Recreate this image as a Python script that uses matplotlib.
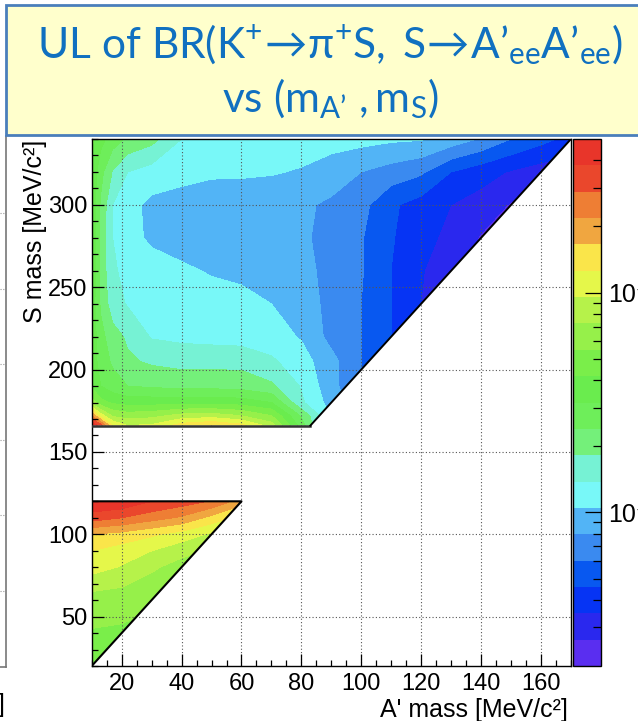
import numpy as np
import matplotlib
matplotlib.use("Agg")
import matplotlib.pyplot as plt
from matplotlib.colors import ListedColormap, BoundaryNorm
from matplotlib.patches import Polygon, Rectangle
from matplotlib.lines import Line2D
from matplotlib.ticker import FixedLocator, MultipleLocator
import matplotlib.cm as cm

plt.rcParams['font.family'] = ['Liberation Sans', 'DejaVu Sans']
plt.rcParams['mathtext.fontset'] = 'custom'
plt.rcParams['mathtext.rm'] = 'Lato'
plt.rcParams['mathtext.it'] = 'Lato:italic'
plt.rcParams['mathtext.bf'] = 'Lato:bold'

# ---- data: log10 of the upper limit on the BR ----
# region above the gap (S mass 166 .. 340 MeV/c^2)
ma_upper = [10, 13, 17, 22, 30, 40, 50, 60, 70, 80, 90, 100, 110, 120, 130, 140, 150, 160, 170]
ms_upper = [166, 172, 180, 190, 205, 220, 240, 260, 280, 300, 320, 340]
log_ul_upper = [
    [-7.24, -7.48, -7.90, -8.02, -8.00, -7.84, -7.78, -7.86, -8.08, -8.56, -9.04, -9.16, -9.22, -9.28, -9.34, -9.34, -9.34, -9.34, -9.34],
    [-7.66, -7.96, -8.16, -8.20, -8.18, -8.10, -8.08, -8.14, -8.26, -8.64, -9.00, -9.12, -9.22, -9.28, -9.34, -9.34, -9.34, -9.34, -9.34],
    [-8.20, -8.34, -8.40, -8.43, -8.43, -8.42, -8.42, -8.44, -8.50, -8.84, -9.03, -9.18, -9.24, -9.30, -9.34, -9.34, -9.34, -9.34, -9.34],
    [-8.40, -8.50, -8.57, -8.62, -8.64, -8.66, -8.66, -8.67, -8.72, -8.87, -9.06, -9.22, -9.34, -9.39, -9.41, -9.41, -9.41, -9.41, -9.41],
    [-8.43, -8.55, -8.64, -8.72, -8.76, -8.78, -8.78, -8.78, -8.84, -8.93, -9.06, -9.22, -9.32, -9.39, -9.44, -9.46, -9.46, -9.46, -9.46],
    [-8.42, -8.58, -8.69, -8.76, -8.87, -8.89, -8.90, -8.91, -8.93, -8.99, -9.14, -9.22, -9.34, -9.42, -9.48, -9.52, -9.53, -9.53, -9.53],
    [-8.42, -8.64, -8.81, -8.87, -8.90, -8.91, -8.93, -8.94, -8.98, -9.05, -9.13, -9.22, -9.34, -9.46, -9.53, -9.58, -9.59, -9.59, -9.59],
    [-8.40, -8.66, -8.84, -8.90, -8.93, -8.96, -8.99, -9.01, -9.03, -9.06, -9.14, -9.21, -9.34, -9.45, -9.54, -9.60, -9.62, -9.62, -9.62],
    [-8.40, -8.66, -8.86, -8.94, -9.00, -9.03, -9.05, -9.06, -9.06, -9.08, -9.14, -9.21, -9.33, -9.41, -9.50, -9.59, -9.62, -9.62, -9.62],
    [-8.40, -8.64, -8.86, -8.94, -9.01, -9.03, -9.05, -9.06, -9.06, -9.08, -9.12, -9.18, -9.32, -9.39, -9.46, -9.51, -9.59, -9.59, -9.59],
    [-8.40, -8.58, -8.75, -8.86, -8.91, -8.94, -8.96, -8.96, -8.97, -8.99, -9.04, -9.10, -9.15, -9.20, -9.34, -9.41, -9.47, -9.52, -9.54],
    [-8.36, -8.46, -8.56, -8.64, -8.70, -8.86, -8.88, -8.90, -8.91, -8.92, -8.93, -8.94, -8.96, -8.97, -9.03, -9.11, -9.22, -9.30, -9.38],
]
# region below the gap (S mass 20 .. 120 MeV/c^2)
ma_lower = [10, 20, 30, 40, 50, 60]
ms_lower = [20, 40, 60, 80, 90, 100, 110, 120]
log_ul_lower = [
    [-8.31, -8.32, -8.33, -8.34, -8.36, -8.36],
    [-8.27, -8.28, -8.30, -8.31, -8.32, -8.32],
    [-8.20, -8.21, -8.24, -8.26, -8.28, -8.30],
    [-7.97, -8.03, -8.12, -8.19, -8.24, -8.26],
    [-7.90, -7.96, -8.02, -8.10, -8.16, -8.20],
    [-7.78, -7.82, -7.88, -7.95, -8.04, -8.10],
    [-7.48, -7.54, -7.61, -7.68, -7.82, -7.96],
    [-7.31, -7.32, -7.42, -7.48, -7.55, -7.72],
]
# kinematically allowed regions (m_S > 2 m_A')
upper_region = [(10, 166), (83, 166), (170, 340), (10, 340)]
lower_region = [(10, 20), (60, 120), (10, 120)]

# colour scale
z_min, z_max = 2e-10, 5e-8
band_colors = ['#5a2ef0', '#2a28ee', '#0634f4', '#0858f0', '#3a8af0', '#52b4f6',
               '#78f8f8', '#76f2d4', '#74f07a', '#6eee5a', '#6aec4e', '#7aee4a',
               '#96f04a', '#b6f24a', '#e5f74a', '#fae54a', '#f0a640', '#ee7e34',
               '#ea472c', '#e8352a']
cbar_major = [1e-9, 1e-8]
cbar_minor = [3e-10, 4e-10, 5e-10, 6e-10, 7e-10, 8e-10, 9e-10,
              2e-9, 3e-9, 4e-9, 5e-9, 6e-9, 7e-9, 8e-9, 9e-9,
              2e-8, 3e-8, 4e-8]
cbar_labels = ['10\u207b\u2079', '10\u207b\u2078']

W, H = 638, 721


def fig_xy(x, y):
    # pixel position (from top-left) -> figure fraction
    return x / W, 1 - y / H


fig = plt.figure(figsize=(W / 100, H / 100), dpi=100, facecolor='white')
ax = fig.add_axes([91.7 / W, 55 / H, (571 - 91.7) / W, (666 - 139) / H])
cax = fig.add_axes([573 / W, 55 / H, 28 / W, (666 - 139) / H])

levels = np.linspace(np.log10(z_min), np.log10(z_max), len(band_colors) + 1)
cmap = ListedColormap(band_colors)
norm = BoundaryNorm(levels, cmap.N)

for ma, ms, vals, corners in [(ma_upper, ms_upper, log_ul_upper, upper_region),
                              (ma_lower, ms_lower, log_ul_lower, lower_region)]:
    z = np.clip(np.array(vals), levels[0] + 1e-6, levels[-1] - 1e-6)
    cs = ax.contourf(ma, ms, z, levels=levels, cmap=cmap, norm=norm, antialiased=False)
    clip = Polygon(corners, closed=True, transform=ax.transData, facecolor='none', edgecolor='none')
    cs.set_clip_path(clip)

# region borders
ux, uy = zip(*upper_region[:3])
ax.plot(ux[:2], uy[:2], color='#333333', lw=1.8, zorder=3)
ax.plot(ux[1:], uy[1:], color='black', lw=1.4, zorder=3)
lx, ly = zip(*lower_region)
ax.plot(lx, ly, color='black', lw=1.5, zorder=3)

ax.set_xlim(10, 170)
ax.set_ylim(20, 340)
ax.xaxis.set_major_locator(MultipleLocator(20))
ax.xaxis.set_minor_locator(MultipleLocator(5))
ax.yaxis.set_major_locator(MultipleLocator(50))
ax.yaxis.set_minor_locator(MultipleLocator(10))
ax.tick_params(which='both', direction='in', top=False, right=False, labelsize=17, width=0.9)
ax.tick_params(which='major', length=8.5)
ax.tick_params(which='minor', length=4.3)
ax.tick_params(axis='x', pad=5)
ax.tick_params(axis='y', pad=3)
ax.grid(True, which='major', color='#555555', linestyle=(0, (1, 2)), linewidth=0.8)
for s in ax.spines.values():
    s.set_linewidth(1.0)

fig.text(*fig_xy(35, 140), 'S mass [MeV/c\u00b2]', rotation=90, ha='center', va='top', fontsize=18)
fig.text(*fig_xy(568, 710), "A' mass [MeV/c\u00b2]", ha='right', va='center', fontsize=18)

# colour bar
cb = fig.colorbar(cm.ScalarMappable(norm=norm, cmap=cmap), cax=cax)
cb.outline.set_linewidth(1.0)
cb.set_ticks(np.log10(cbar_major), labels=cbar_labels)
cax.yaxis.set_minor_locator(FixedLocator(np.log10(cbar_minor)))
cax.tick_params(which='both', direction='in', right=True, labelsize=18, width=0.9, pad=5)
cax.tick_params(which='major', length=11.5)
cax.tick_params(which='minor', length=5.8)

# edge of the neighbouring plot on the slide
fig.add_artist(Line2D([6 / W, 6 / W], [1 - 136 / H, 1 - 667 / H], color='#777777', lw=1.2))
fig.add_artist(Line2D([0, 6 / W], [1 - 667 / H, 1 - 667 / H], color='#777777', lw=1.2))
for yy in [213, 289, 364, 440, 515, 591]:
    fig.add_artist(Line2D([0, 5 / W], [1 - yy / H, 1 - yy / H], color='#999999', lw=0.8,
                          linestyle=(0, (1, 1.5))))
fig.text(*fig_xy(-2, 705), ']', ha='left', va='center', fontsize=18)

# title box
x0, y0 = fig_xy(6, 135)
fig.add_artist(Rectangle((x0, y0), 700 / W, 130 / H, transform=fig.transFigure,
                         facecolor='#ffffcc', edgecolor='#4a7ebb', lw=2, zorder=5))
title_color = '#1070c0'
fig.text(*fig_xy(330, 58), r'$\mathrm{UL\ of\ BR(K^{+}\!\rightarrow\!\pi^{+}S,\ S\!\rightarrow\!A’_{ee}A’_{ee})}$',
         ha='center', va='baseline', fontsize=30.5, color=title_color, zorder=6)
fig.text(*fig_xy(330, 112), r'$\mathrm{vs\ (m_{A’}\ ,m_{S})}$',
         ha='center', va='baseline', fontsize=30.5, color=title_color, zorder=6)

fig.savefig('out.png', dpi=100)
